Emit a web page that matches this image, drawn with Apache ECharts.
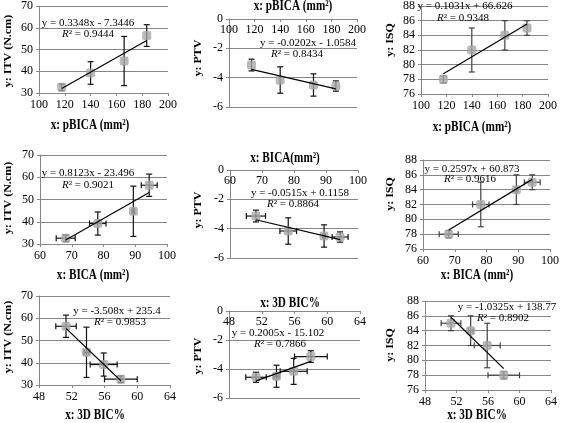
<!DOCTYPE html>
<html><head><meta charset="utf-8">
<script src="https://cdn.jsdelivr.net/npm/echarts@6/dist/echarts.min.js"></script>
<style>html,body{margin:0;padding:0;background:#fff}#c{width:565px;height:423px}</style>
</head><body><div id="c"></div>
<script>
// ---- data ----
const groups = ['G1', 'G2', 'G3', 'G4'];
const pBICA = [117.6, 140, 166, 183.5];
const pBICAErr = [0, 0, 0, 0];
const BICA = [68.1, 78.2, 89.4, 94.4];
const BICAErr = [3, 2.6, 0.4, 2.5];
const BIC3D = [58.0, 55.9, 53.8, 51.3];
const BIC3DErr = [2, 1.65, 0.3, 1.25];
const ITV = [32.6, 39.2, 44.7, 56.4];
const ITVErr = [1.5, 5.2, 11.3, 5.0];
const PTV = [-3.14, -4.16, -4.5, -4.57];
const PTVErr = [0.4, 0.9, 0.76, 0.35];
const ISQ = [78.0, 82.0, 84.0, 85.0];
const ISQErr = [0.5, 3.0, 2.0, 1.0];

// trendlines, row-major: rows = pBICA, BICA, 3D BIC% ; cols = ITV, PTV, ISQ
const trendSlope = [0.3348, -0.0202, 0.1031, 0.8123, -0.0515, 0.2597, -3.508, 0.2005, -1.0325];
const trendIntercept = [-7.3446, -1.0584, 66.626, -23.496, 0.1158, 60.873, 235.4, -15.102, 138.77];
const trendEq = ['y = 0.3348x - 7.3446', 'y = -0.0202x - 1.0584', 'y = 0.1031x + 66.626',
  'y = 0.8123x - 23.496', 'y = -0.0515x + 0.1158', 'y = 0.2597x + 60.873',
  'y = -3.508x + 235.4', 'y = 0.2005x - 15.102', 'y = -1.0325x + 138.77'];
const trendR2 = ['0.9444', '0.8434', '0.9348', '0.9021', '0.8864', '0.9616', '0.9853', '0.7866', '0.8902'];

const xTitles = ['x: pBICA (mm²)', 'x: BICA (mm²)', 'x: 3D BIC%'];
const xTitlesPTV = ['x: pBICA (mm²)', 'x: BICA(mm²)', 'x: 3D BIC%'];
const yTitles = ['y: ITV (N.cm)', 'y: PTV', 'y: ISQ'];
const xScale = [[100, 200, 20], [60, 100, 10], [48, 64, 4]];
const yScale = [[30, 70, 10], [-6, 0, 2], [76, 88, 2]];

// ---- layout (pixels) ----
const gridRects = [
  [39, 5, 129, 88], [229, 19, 128, 88], [421, 5, 127, 89],
  [40, 155, 127, 89], [230, 170, 128, 88], [423, 160, 127, 89],
  [39, 296, 131, 89], [229, 311, 131, 87], [425, 301, 126, 89]
];
const eqPos = [
  [88, 23, 88, 34], [308, 43, 297, 54], [465, 6, 463, 18],
  [88, 173, 88, 185], [300, 193, 293, 204], [472, 169, 470, 179],
  [117, 311, 120, 322], [278, 333, 280, 344], [507, 307, 503, 318]
];
const xTitlePos = [[90, 125], [293, 6], [472, 127], [93, 275], [285, 158], [477, 275], [95, 415], [290, 303], [477, 415]];
const yTitlePos = [[8, 51], [198, 58], [390, 40], [8, 198], [198, 210], [390, 194], [8, 337], [198, 356], [390, 345]];

const FONT = '"Liberation Serif", "Times New Roman", serif';
const AX = '#868686';
const xVarVals = [pBICA, BICA, BIC3D], xVarErr = [pBICAErr, BICAErr, BIC3DErr];
const yVarVals = [ITV, PTV, ISQ], yVarErr = [ITVErr, PTVErr, ISQErr];

const grid = [], xAxis = [], yAxis = [], series = [], graphic = [];

function errRender(color) {
  return function (params, api) {
    const x = api.value(0), y = api.value(1), ex = api.value(2), ey = api.value(3);
    const ch = [];
    const st = { stroke: color, lineWidth: 1.2 };
    if (ey > 0) {
      const a = api.coord([x, y - ey]), b = api.coord([x, y + ey]);
      ch.push({ type: 'line', shape: { x1: a[0], y1: a[1], x2: b[0], y2: b[1] }, style: st });
      ch.push({ type: 'line', shape: { x1: a[0] - 3, y1: a[1], x2: a[0] + 3, y2: a[1] }, style: st });
      ch.push({ type: 'line', shape: { x1: b[0] - 3, y1: b[1], x2: b[0] + 3, y2: b[1] }, style: st });
    }
    if (ex > 0) {
      const a = api.coord([x - ex, y]), b = api.coord([x + ex, y]);
      ch.push({ type: 'line', shape: { x1: a[0], y1: a[1], x2: b[0], y2: b[1] }, style: st });
      ch.push({ type: 'line', shape: { x1: a[0], y1: a[1] - 3, x2: a[0], y2: a[1] + 3 }, style: st });
      ch.push({ type: 'line', shape: { x1: b[0], y1: b[1] - 3, x2: b[0], y2: b[1] + 3 }, style: st });
    }
    return { type: 'group', children: ch };
  };
}

for (let r = 0; r < 3; r++) {
  for (let c = 0; c < 3; c++) {
    const i = r * 3 + c;
    const g = gridRects[i];
    const ptv = c === 1;
    grid.push({ left: g[0], top: g[1], width: g[2], height: g[3], containLabel: false });
    xAxis.push({
      gridIndex: i, type: 'value', min: xScale[r][0], max: xScale[r][1], interval: xScale[r][2],
      position: ptv ? 'top' : 'bottom',
      axisLine: { show: true, onZero: false, lineStyle: { color: AX, width: 1 } },
      axisTick: { show: true, length: 3, inside: ptv, lineStyle: { color: AX } },
      axisLabel: { fontFamily: FONT, fontSize: 12, color: '#000', margin: ptv ? 5 : 6, inside: ptv },
      splitLine: { show: false }
    });
    yAxis.push({
      gridIndex: i, type: 'value', min: yScale[c][0], max: yScale[c][1], interval: yScale[c][2],
      axisLine: { show: true, lineStyle: { color: AX, width: 1 } },
      axisTick: { show: true, length: 3, lineStyle: { color: AX } },
      axisLabel: { fontFamily: FONT, fontSize: 12, color: '#000', margin: 6 },
      splitLine: { show: true, lineStyle: { color: AX, width: 1 } }
    });
    const xs = xVarVals[r], ys = yVarVals[c], exs = xVarErr[r], eys = yVarErr[c];
    series.push({
      type: 'custom', xAxisIndex: i, yAxisIndex: i, z: 2, silent: true, clip: false,
      renderItem: errRender(c === 2 ? '#404040' : '#111'),
      data: groups.map((_, k) => [xs[k], ys[k], exs[k], eys[k]])
    });
    series.push({
      type: 'scatter', xAxisIndex: i, yAxisIndex: i, z: 3, symbol: 'roundRect', symbolSize: 9,
      itemStyle: { color: '#A6A6A6' },
      data: groups.map((_, k) => [xs[k], ys[k]])
    });
    const xmin = Math.min(...xs), xmax = Math.max(...xs);
    series.push({
      type: 'line', xAxisIndex: i, yAxisIndex: i, z: 4, symbol: 'none', silent: true,
      lineStyle: { color: '#000', width: 1.2 },
      data: [[xmin, trendSlope[i] * xmin + trendIntercept[i]], [xmax, trendSlope[i] * xmax + trendIntercept[i]]]
    });
    // texts
    const e = eqPos[i];
    graphic.push({ type: 'text', x: e[0], y: e[1], z: 10,
      style: { text: trendEq[i], font: '11px ' + FONT, fill: '#000', align: 'center', verticalAlign: 'middle' } });
    graphic.push({ type: 'text', x: e[2], y: e[3], z: 10,
      style: { text: '{i|R}² = ' + trendR2[i], font: '11px ' + FONT, fill: '#000', align: 'center', verticalAlign: 'middle',
        rich: { i: { fontStyle: 'italic', fontFamily: FONT, fontSize: 11 } } } });
    const xt = xTitlePos[i];
    graphic.push({ type: 'text', x: xt[0], y: xt[1], scaleX: 0.8, z: 10,
      style: { text: ptv ? xTitlesPTV[r] : xTitles[r], font: 'bold 14px ' + FONT, fill: '#000', align: 'center', verticalAlign: 'middle' } });
    const yt = yTitlePos[i];
    graphic.push({ type: 'text', x: yt[0], y: yt[1], rotation: Math.PI / 2, scaleY: 0.85, z: 10,
      style: { text: yTitles[c], font: 'bold 12px ' + FONT, fill: '#000', align: 'center', verticalAlign: 'middle' } });
  }
}

const chart = echarts.init(document.getElementById('c'), null, { renderer: 'canvas' });
chart.setOption({ animation: false, backgroundColor: '#fff', grid, xAxis, yAxis, series, graphic });
</script>
</body></html>
